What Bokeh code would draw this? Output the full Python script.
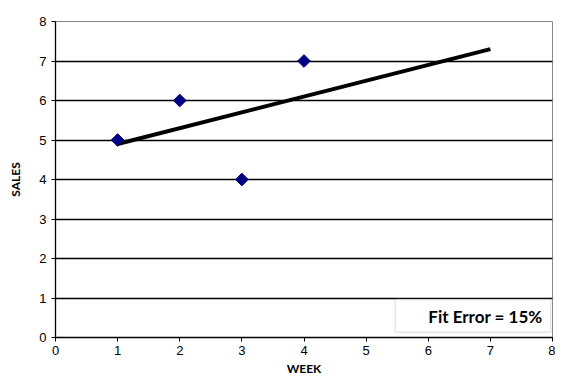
import math
from bokeh.plotting import figure
from bokeh.embed import file_html
from bokeh.resources import INLINE
from bokeh.models import FixedTicker, BoxAnnotation, Label, Range1d

weeks = [1, 2, 3, 4]
sales = [5, 6, 4, 7]
fit_weeks = [1, 7]
fit_sales = [4.9, 7.3]
x_ticks = [0, 1, 2, 3, 4, 5, 6, 7, 8]
y_ticks = [0, 1, 2, 3, 4, 5, 6, 7, 8]
fit_text = "Fit Error = 15%"

p = figure(width=555, height=378, output_backend="svg", toolbar_location=None,
           x_range=Range1d(0, 8), y_range=Range1d(0, 8),
           min_border_left=55, min_border_right=3, min_border_top=21, min_border_bottom=41)
p.background_fill_color = "white"
p.border_fill_color = "white"
p.outline_line_color = "#888888"
p.outline_line_width = 1

p.xgrid.visible = False
p.ygrid.ticker = FixedTicker(ticks=y_ticks[1:-1])
p.ygrid.grid_line_color = "black"
p.ygrid.grid_line_width = 1.3

for ax, ticks in ((p.xaxis, x_ticks), (p.yaxis, y_ticks)):
    ax.ticker = FixedTicker(ticks=ticks)
    ax.minor_tick_line_color = None
    ax.major_tick_in = 0
    ax.major_tick_out = 4
    ax.axis_line_color = "black"
    ax.axis_line_width = 1.3
    ax.major_tick_line_color = "black"
    ax.major_label_text_font = "Liberation Sans"
    ax.major_label_text_font_size = "13px"
    ax.major_label_text_color = "black"
    ax.axis_label_text_font = "Lato"
    ax.axis_label_text_font_size = "12px"
    ax.axis_label_text_font_style = "bold"
    ax.axis_label_text_color = "black"

p.xaxis.axis_label = "WEEK"
p.yaxis.axis_label = "SALES"
p.xaxis.major_label_standoff = 4
p.xaxis.axis_label_standoff = 3
p.yaxis.axis_label_standoff = 13

p.line(fit_weeks, fit_sales, line_color="black", line_width=4)
p.scatter(weeks, sales, marker="square", size=9, angle=math.pi / 4,
          fill_color="#000080", line_color="#000080")

box = BoxAnnotation(left=5.47, right=7.97, bottom=0.13, top=0.96,
                    fill_color="white", fill_alpha=1, line_color="#aaaaaa", line_width=1.5)
p.add_layout(box)
lab = Label(x=7.84, y=0.53, text=fit_text, text_align="right", text_baseline="middle",
            text_font="Lato", text_font_style="bold", text_font_size="17px", text_color="black")
p.add_layout(lab)

open("out.html", "w").write(file_html(p, INLINE))
